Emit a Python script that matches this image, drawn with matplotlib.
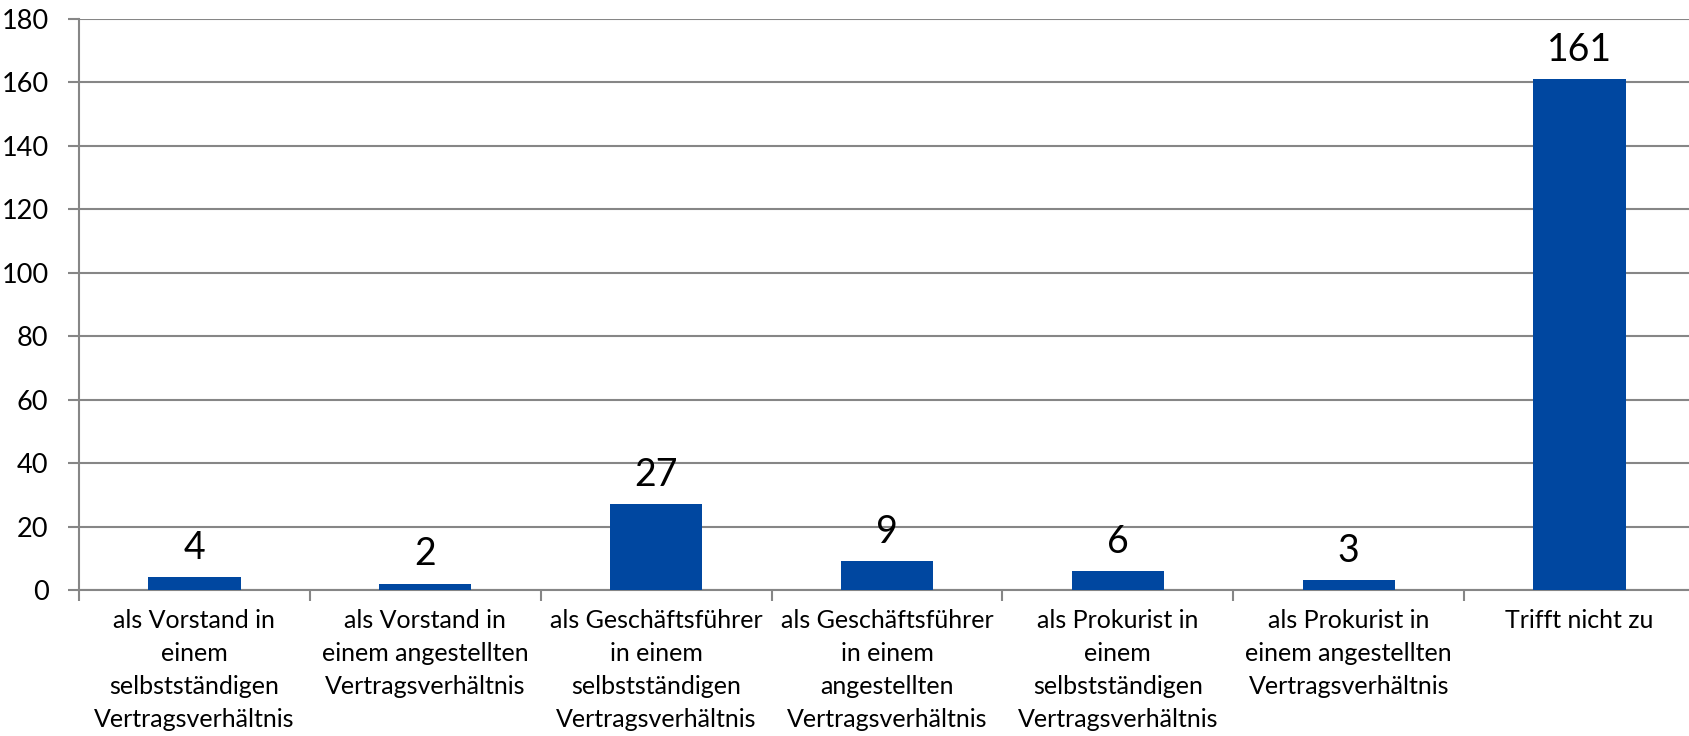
import numpy as np
import matplotlib.pyplot as plt

# Data
categories = [
    'als Vorstand in\neinem\nselbstständigen\nVertragsverhältnis',
    'als Vorstand in\neinem angestellten\nVertragsverhältnis',
    'als Geschäftsführer\nin einem\nselbstständigen\nVertragsverhältnis',
    'als Geschäftsführer\nin einem\nangestellten\nVertragsverhältnis',
    'als Prokurist in\neinem\nselbstständigen\nVertragsverhältnis',
    'als Prokurist in\neinem angestellten\nVertragsverhältnis',
    'Trifft nicht zu',
]
values = [4, 2, 27, 9, 6, 3, 161]

plt.rcParams['font.family'] = ['Lato', 'DejaVu Sans']

fig = plt.figure(figsize=(16.9, 7.36), dpi=100)
# plot area runs slightly past the right edge of the picture
ax = fig.add_axes([79 / 1690, 146 / 736, 1616 / 1690, 571 / 736])

x = np.arange(len(values))
bars = ax.bar(x, values, width=0.4, color='#0047A0', zorder=3)

ax.set_xlim(-0.5, len(values) - 0.5)
ax.set_ylim(0, 180)
ax.set_yticks(np.arange(0, 181, 20))
ax.yaxis.grid(True, color='#868686', linewidth=1.5, zorder=0)

# tick marks between categories, labels at centres
ax.set_xticks(np.arange(-0.5, len(values), 1))
ax.set_xticklabels([])
ax.set_xticks(x, minor=True)
ax.set_xticklabels(categories, minor=True, fontsize=18, linespacing=1.52)
ax.tick_params(axis='x', which='minor', length=0, pad=14)
ax.tick_params(axis='x', which='major', length=8, width=1.5, color='#868686')
ax.tick_params(axis='y', length=8, width=1.5, color='#868686', labelsize=19.5, pad=14)

for s in ['top', 'right']:
    ax.spines[s].set_visible(False)
for s in ['left', 'bottom']:
    ax.spines[s].set_color('#868686')
    ax.spines[s].set_linewidth(1.5)

for b, v in zip(bars, values):
    ax.annotate(str(v), (b.get_x() + b.get_width() / 2, v), xytext=(0, 21),
                textcoords='offset points', ha='center', va='center', fontsize=27)

plt.savefig('out.png', dpi=100)
